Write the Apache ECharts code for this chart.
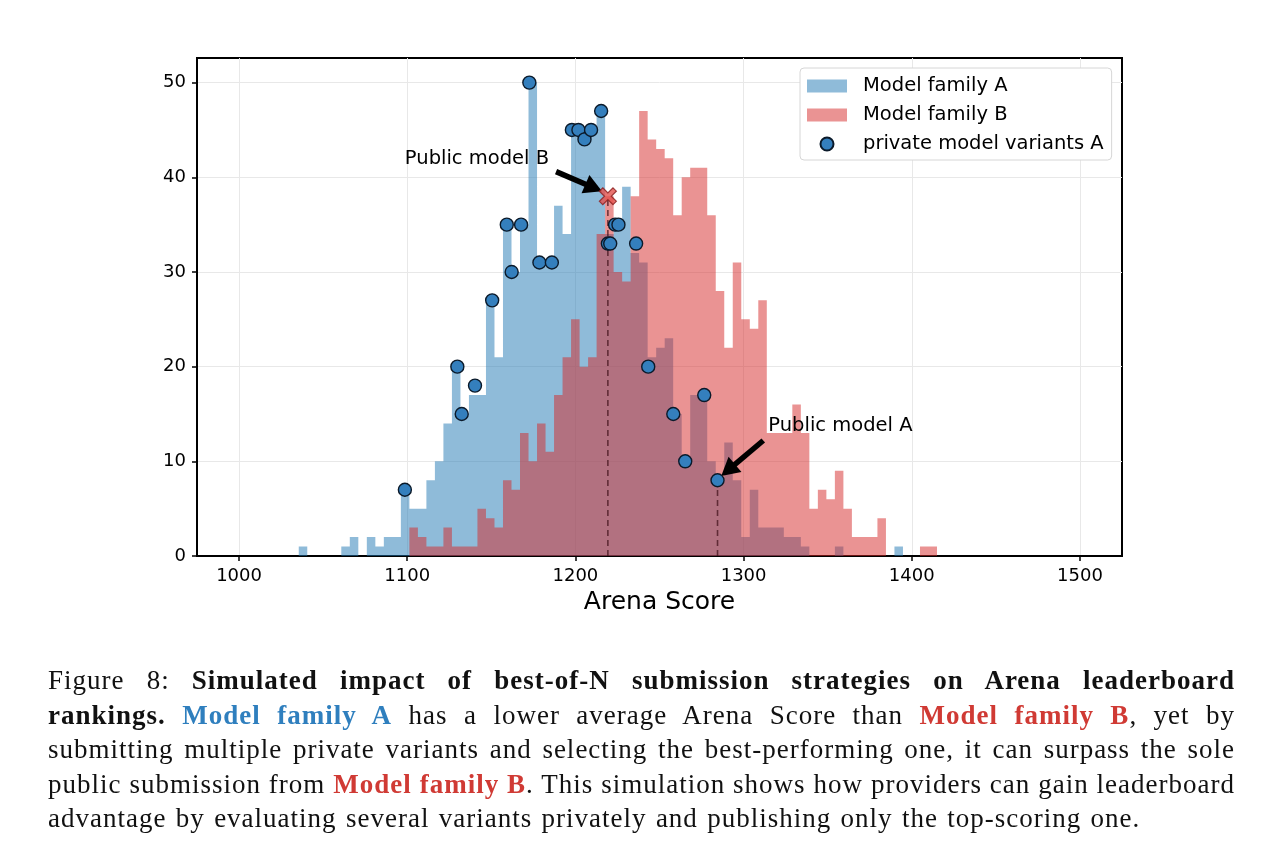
<!DOCTYPE html>
<html>
<head>
<meta charset="utf-8">
<script src="https://cdn.jsdelivr.net/npm/echarts@6/dist/echarts.min.js"></script>
<style>
  html, body { margin: 0; padding: 0; background: #fff; }
  #chart { position: absolute; left: 0; top: 0; width: 1280px; height: 862px; }
  #cap { position: absolute; left: 48px; top: 663px; width: 1187px;
         font-family: "Liberation Serif", "DejaVu Serif", serif; font-size: 27px;
         letter-spacing: 1.0px; line-height: 34.5px; color: #111; }
  #cap .j { text-align: justify; text-align-last: justify; }
  #cap .last { word-spacing: 1.6px; }
  #cap .a { color: #2f7fbe; }
  #cap .r { color: #d03a34; }
</style>
</head>
<body>
<div id="chart"></div>
<div id="cap">
  <div class="j">Figure 8: <b>Simulated impact of best-of-N submission strategies on Arena leaderboard</b></div>
  <div class="j"><b>rankings.</b> <b class="a">Model family A</b> has a lower average Arena Score than <b class="r">Model family B</b>, yet by</div>
  <div class="j">submitting multiple private variants and selecting the best-performing one, it can surpass the sole</div>
  <div class="j">public submission from <b class="r">Model family B</b>. This simulation shows how providers can gain leaderboard</div>
  <div class="last">advantage by evaluating several variants privately and publishing only the top-scoring one.</div>
</div>
<script>
// ---- data ----
const binStart = 1035.5;
const binWidth = 5.06;
const countsA = [1,0,0,0,0, 1,2,0,2,1, 2,2,7,5,5, 8,10,14,20,15, 17,17,27,21,35,
                 30,35,50,31,31, 37,34,45,45,45, 47,34,35,39,32, 31,21,22,23,15,
                 10,17,17,10,8, 12,8,2,7,3, 3,3,2,2,1, 0,0,0,1,0, 0,0,0,0,0, 1,0,0,0,0];
const countsB = [0,0,0,0,0, 0,0,0,0,0, 0,0,0,3,2, 1,1,3,1,1, 1,5,4,3,8,
                 7,13,10,14,11, 17,21,25,20,21, 34,38,30,29,38, 47,44,43,42,36,
                 40,41,41,36,28, 22,31,25,24,27, 13,13,13,16,13, 5,7,6,9,5,
                 2,2,2,4,0, 0,0,0,1,1];
const privX = [1098.6,1129.8,1132.4,1140.3,1150.5,1159.2,1162.1,1167.7,1172.6,1178.6,1186.0,
               1197.9,1201.8,1205.4,1209.3,1215.3,1219.3,1220.7,1223.6,1225.6,1236.1,
               1243.3,1258.2,1265.3,1276.6,1284.5];
const privY = [7,20,15,18,27,35,30,35,50,31,31,45,45,44,45,47,33,33,35,35,33,20,15,10,17,8];
const publicB = [1219.3, 38];
const publicA = [1284.5, 8];
const xTicks = [1000, 1100, 1200, 1300, 1400, 1500];
const yTicks = [0, 10, 20, 30, 40, 50];
// annotation anchors (data coords)
const labelB = [1098.6, 41.9];
const labelA = [1314.7, 13.7];
const arrowB = [[1188.5, 40.6], [1210.9, 38.9]];
const arrowA = [[1311.7, 12.2], [1290.8, 9.07]];

function stepData(counts) {
  let first = counts.findIndex(v => v > 0);
  let last = counts.length - 1;
  while (last > 0 && counts[last] === 0) last--;
  const d = [];
  for (let k = first; k <= last; k++) d.push([binStart + k * binWidth, counts[k]]);
  d.push([binStart + (last + 1) * binWidth, counts[last]]);
  return d;
}

const FONT = 'DejaVu Sans';
const colA = 'rgba(31,119,180,0.5)';
const colB = 'rgba(214,39,40,0.5)';

const chart = echarts.init(document.getElementById('chart'), null, { renderer: 'canvas' });
const option = {
  backgroundColor: '#fff',
  animation: false,
  grid: { left: 197, top: 58, width: 925, height: 498, show: true,
          borderColor: '#000', borderWidth: 2, backgroundColor: 'transparent' },
  xAxis: {
    type: 'value', min: 975, max: 1525,
    name: 'Arena Score', nameLocation: 'middle', nameGap: 32,
    nameTextStyle: { fontFamily: FONT, fontSize: 25, color: '#000' },
    axisLine: { show: true, onZero: false, lineStyle: { color: '#000', width: 2 } },
    axisTick: { show: true, length: 5, inside: false, customValues: xTicks,
                lineStyle: { color: '#000', width: 1.5 } },
    axisLabel: { customValues: xTicks, margin: 11, fontFamily: FONT, fontSize: 18, color: '#000',
                 formatter: v => String(v) },
    splitLine: { show: true, lineStyle: { color: '#e8e8e8', width: 1 } }
  },
  yAxis: {
    type: 'value', min: 0, max: 52.6,
    axisLine: { show: true, lineStyle: { color: '#000', width: 2 } },
    axisTick: { show: true, length: 5, inside: false, customValues: yTicks,
                lineStyle: { color: '#000', width: 1.5 } },
    axisLabel: { customValues: yTicks, margin: 11, fontFamily: FONT, fontSize: 18, color: '#000',
                 padding: [4, 0, 0, 0], formatter: v => String(v) },
    splitLine: { show: true, lineStyle: { color: '#e8e8e8', width: 1 } }
  },
  legend: {
    left: 800, top: 68, orient: 'vertical',
    padding: [8, 8, 6, 7],
    itemWidth: 40, itemHeight: 13, itemGap: 9,
    backgroundColor: '#fff', borderColor: '#d6d6d6', borderWidth: 1, borderRadius: 4,
    textStyle: { fontFamily: FONT, fontSize: 19.5, color: '#000', padding: [0, 0, 0, 11] },
    data: [
      { name: 'Model family A', icon: 'rect', itemStyle: { color: colA, borderWidth: 0 } },
      { name: 'Model family B', icon: 'rect', itemStyle: { color: colB, borderWidth: 0 } },
      { name: 'private model variants A', icon: 'circle' }
    ]
  },
  series: [
    {
      name: 'Model family A', type: 'line', step: 'end', data: stepData(countsA),
      symbol: 'none', color: colA, lineStyle: { width: 0, opacity: 0 },
      areaStyle: { color: colA, opacity: 1 }, z: 2
    },
    {
      name: 'Model family B', type: 'line', step: 'end', data: stepData(countsB),
      symbol: 'none', color: colB, lineStyle: { width: 0, opacity: 0 },
      areaStyle: { color: colB, opacity: 1 }, z: 3
    },
    {
      name: 'publicBLine', type: 'line', data: [[publicB[0], 0], [publicB[0], publicB[1]]],
      symbol: 'none', lineStyle: { color: 'rgba(70,20,30,0.75)', width: 1.6, type: [6, 4] }, z: 4
    },
    {
      name: 'publicALine', type: 'line', data: [[publicA[0], 0], [publicA[0], publicA[1]]],
      symbol: 'none', lineStyle: { color: 'rgba(70,20,30,0.75)', width: 1.6, type: [6, 4] }, z: 4
    },
    {
      name: 'private model variants A', type: 'scatter',
      data: privX.map((x, i) => [x, privY[i]]),
      symbol: 'circle', symbolSize: 13,
      itemStyle: { color: '#347fbd', borderColor: '#0b1a2a', borderWidth: 1.4, opacity: 1 }, z: 6
    },
    {
      name: 'publicB', type: 'scatter', data: [publicB],
      symbol: 'path://M2,0 L5,3 L8,0 L10,2 L7,5 L10,8 L8,10 L5,7 L2,10 L0,8 L3,5 L0,2 Z',
      symbolSize: 17,
      itemStyle: { color: '#e2514c', borderColor: '#8a1d1d', borderWidth: 1.2 }, z: 7,
      markLine: {
        silent: true, symbol: ['none', 'triangle'], symbolSize: [20, 18],
        label: { show: false },
        lineStyle: { color: '#000', width: 5.5, type: 'solid' },
        data: [
          [{ coord: arrowB[0] }, { coord: arrowB[1] }],
          [{ coord: arrowA[0] }, { coord: arrowA[1] }]
        ]
      }
    }
  ]
};
chart.setOption(option);

const pB = chart.convertToPixel({ gridIndex: 0 }, labelB);
const pA = chart.convertToPixel({ gridIndex: 0 }, labelA);
chart.setOption({
  graphic: [
    { type: 'text', x: pB[0], y: pB[1], z: 100,
      style: { text: 'Public model B', fill: '#000', font: '19.5px "DejaVu Sans"',
               align: 'left', verticalAlign: 'middle' } },
    { type: 'text', x: pA[0], y: pA[1], z: 100,
      style: { text: 'Public model A', fill: '#000', font: '19.5px "DejaVu Sans"',
               align: 'left', verticalAlign: 'middle' } }
  ]
});
</script>
</body>
</html>
